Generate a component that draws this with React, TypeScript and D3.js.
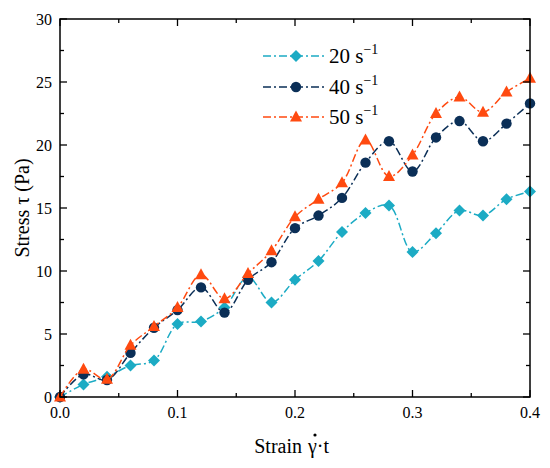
import React from "react";
import * as d3 from "d3";

const strain = [0, 0.02, 0.04, 0.06, 0.08, 0.1, 0.12, 0.14, 0.16, 0.18, 0.2, 0.22, 0.24, 0.26, 0.28, 0.3, 0.32, 0.34, 0.36, 0.38, 0.4];
const s20 = [0, 1.0, 1.6, 2.5, 2.9, 5.8, 6.0, 7.1, 9.5, 7.5, 9.3, 10.8, 13.1, 14.6, 15.2, 11.5, 13.0, 14.8, 14.4, 15.7, 16.3];
const s40 = [0, 1.8, 1.35, 3.5, 5.5, 6.9, 8.7, 6.7, 9.3, 10.7, 13.4, 14.4, 15.8, 18.6, 20.3, 17.9, 20.6, 21.9, 20.3, 21.7, 23.3];
const s50 = [0, 2.2, 1.4, 4.1, 5.6, 7.1, 9.7, 7.8, 9.8, 11.6, 14.3, 15.7, 17.0, 20.4, 17.5, 19.2, 22.5, 23.8, 22.6, 24.2, 25.3];
const seriesLabels = ["20", "40", "50"];
const xTicks = [0, 0.1, 0.2, 0.3, 0.4];
const xMinor = [0.05, 0.15, 0.25, 0.35];
const yTicks = [0, 5, 10, 15, 20, 25, 30];
const yMinor = [2.5, 7.5, 12.5, 17.5, 22.5, 27.5];

const W = 550, H = 468;
const L = 60, R = 530, T = 19, B = 397;
const FONT = "Liberation Serif";

export default function App() {
  const x = d3.scaleLinear().domain([0, 0.4]).range([L, R]);
  const y = d3.scaleLinear().domain([0, 30]).range([B, T]);
  const series = [
    { label: seriesLabels[0], vals: s20, color: "#1cabc4", marker: "diamond" },
    { label: seriesLabels[1], vals: s40, color: "#0b2f57", marker: "circle" },
    { label: seriesLabels[2], vals: s50, color: "#ff4a10", marker: "triangle" },
  ];
  const line = d3
    .line<number>()
    .x((_, i) => x(strain[i]))
    .y((d) => y(d))
    .curve(d3.curveCatmullRom.alpha(0.5));
  const sym = (m: string) => {
    if (m === "diamond") return "M0,-6L6,0L0,6L-6,0Z";
    if (m === "circle") return d3.symbol(d3.symbolCircle, 85)();
    return "M0,-6.5L6,4.5L-6,4.5Z";
  };
  const dash = "8,3,2,3";
  const legY = [56, 87, 117];
  const ts = { fontFamily: FONT };
  return (
    <svg width={W} height={H} style={{ position: "absolute", left: 0, top: 0, background: "#fff", fontFamily: FONT }}>
      {series.map((s) => (
        <g key={s.label}>
          <path d={line(s.vals) || ""} fill="none" stroke={s.color} strokeWidth={1.5} strokeDasharray={dash} />
          {s.vals.map((v, i) => (
            <path key={i} d={sym(s.marker) || ""} transform={`translate(${x(strain[i])},${y(v)})`} fill={s.color} />
          ))}
        </g>
      ))}
      <rect x={L} y={T} width={R - L} height={B - T} fill="none" stroke="#000" strokeWidth={1.5} />
      {xTicks.map((t) => (
        <g key={"x" + t}>
          <line x1={x(t)} x2={x(t)} y1={B} y2={B - 7} stroke="#000" strokeWidth={1.3} />
          <line x1={x(t)} x2={x(t)} y1={T} y2={T + 7} stroke="#000" strokeWidth={1.3} />
          <text x={x(t)} y={418} textAnchor="middle" fontSize={16} style={ts}>{t.toFixed(1)}</text>
        </g>
      ))}
      {xMinor.map((t) => (
        <g key={"xm" + t}>
          <line x1={x(t)} x2={x(t)} y1={B} y2={B - 4} stroke="#000" strokeWidth={1.3} />
          <line x1={x(t)} x2={x(t)} y1={T} y2={T + 4} stroke="#000" strokeWidth={1.3} />
        </g>
      ))}
      {yTicks.map((t) => (
        <g key={"y" + t}>
          <line x1={L} x2={L + 7} y1={y(t)} y2={y(t)} stroke="#000" strokeWidth={1.3} />
          <line x1={R} x2={R - 7} y1={y(t)} y2={y(t)} stroke="#000" strokeWidth={1.3} />
          <text x={52} y={y(t) + 5.5} textAnchor="end" fontSize={16} style={ts}>{t}</text>
        </g>
      ))}
      {yMinor.map((t) => (
        <g key={"ym" + t}>
          <line x1={L} x2={L + 4} y1={y(t)} y2={y(t)} stroke="#000" strokeWidth={1.3} />
          <line x1={R} x2={R - 4} y1={y(t)} y2={y(t)} stroke="#000" strokeWidth={1.3} />
        </g>
      ))}
      <text x={302} y={453} textAnchor="end" fontSize={20} style={ts}>Strain</text>
      <text x={308} y={453} textAnchor="start" fontSize={20} style={ts}>γ·t</text>
      <circle cx={315} cy={435} r={1.6} fill="#000" />
      <text transform={`translate(29,208) rotate(-90)`} textAnchor="middle" fontSize={20} style={ts}>Stress τ (Pa)</text>
      {series.map((s, i) => (
        <g key={"leg" + s.label}>
          <line x1={263} x2={324} y1={legY[i]} y2={legY[i]} stroke={s.color} strokeWidth={1.5} strokeDasharray={dash} />
          <path d={sym(s.marker) || ""} transform={`translate(296,${legY[i]})`} fill={s.color} />
          <text x={329} y={legY[i] + 7} fontSize={21} style={ts}>
            {s.label} s<tspan dy={-9} fontSize={14}>−1</tspan>
          </text>
        </g>
      ))}
    </svg>
  );
}
